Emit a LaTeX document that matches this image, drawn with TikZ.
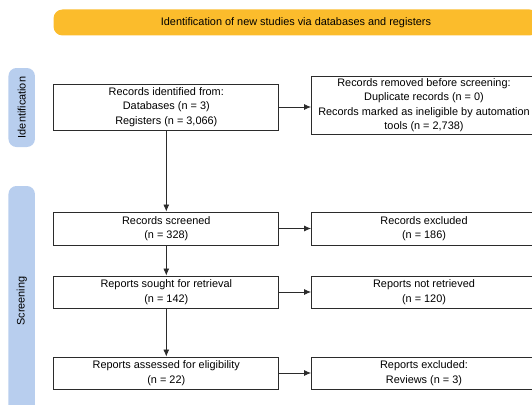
\documentclass[tikz,border=0pt]{standalone}
\usepackage{fontspec}
\setmainfont{Liberation Sans}
\usetikzlibrary{arrows.meta}
\definecolor{bannerYellow}{HTML}{FBBC2C}
\definecolor{phaseBlue}{HTML}{B8CEEE}
\definecolor{lineGray}{HTML}{2B2B2B}
\tikzset{
  flowbox/.style={draw=lineGray, line width=0.9pt, rectangle, align=center,
    minimum width=225pt, inner sep=2pt},
  phase/.style={fill=phaseBlue, rounded corners=8pt, rotate=90,
    minimum height=26.5pt, inner sep=0pt},
  flow/.style={draw=lineGray, line width=0.8pt, -{Latex[length=7pt,width=6pt]}}
}
\begin{document}
\begin{tikzpicture}[x=1pt, y=-1pt, font=\fontsize{10.9}{14.4}\selectfont]
\useasboundingbox (0,0) rectangle (532,404);
\clip (0,0) rectangle (532,404);

% banner and phases
\node[fill=bannerYellow, rounded corners=9pt, minimum width=485pt, minimum height=26pt]
  (banner) at (296,22.5) {Identification of new studies via databases and registers};
\node[phase, minimum width=79pt] (ident) at (21.7,107.5) {Identification};
\node[phase, minimum width=230pt] (screen) at (21.7,301) {Screening};

% left column
\node[flowbox, minimum height=46pt] (identified) at (166.3,107)
  {Records identified from:\\Databases (n = 3)\\Registers (n = 3,066)};
\node[flowbox, minimum height=33pt] (screened) at (166.3,228.5)
  {Records screened\\(n = 328)};
\node[flowbox, minimum height=32pt] (sought) at (166.3,292)
  {Reports sought for retrieval\\(n = 142)};
\node[flowbox, minimum height=32pt] (assessed) at (166.3,373)
  {Reports assessed for eligibility\\(n = 22)};

% right column
\node[flowbox, minimum height=58pt] (removed) at (424,105)
  {Records removed before screening:\\Duplicate records (n = 0)\\Records marked as ineligible by automation\\tools (n = 2,738)};
\node[flowbox, minimum height=33pt] (excluded) at (424,228.5)
  {Records excluded\\(n = 186)};
\node[flowbox, minimum height=32pt] (notretrieved) at (424,292)
  {Reports not retrieved\\(n = 120)};
\node[flowbox, minimum height=32pt] (repexcluded) at (424,373)
  {Reports excluded:\\Reviews (n = 3)};

% arrows
\draw[flow] (identified) -- (screened);
\draw[flow] (screened) -- (sought);
\draw[flow] (sought) -- (assessed);
\draw[flow] (identified.east) -- (identified.east -| removed.west);
\draw[flow] (screened) -- (excluded);
\draw[flow] (sought) -- (notretrieved);
\draw[flow] (assessed) -- (repexcluded);
\end{tikzpicture}
\end{document}
